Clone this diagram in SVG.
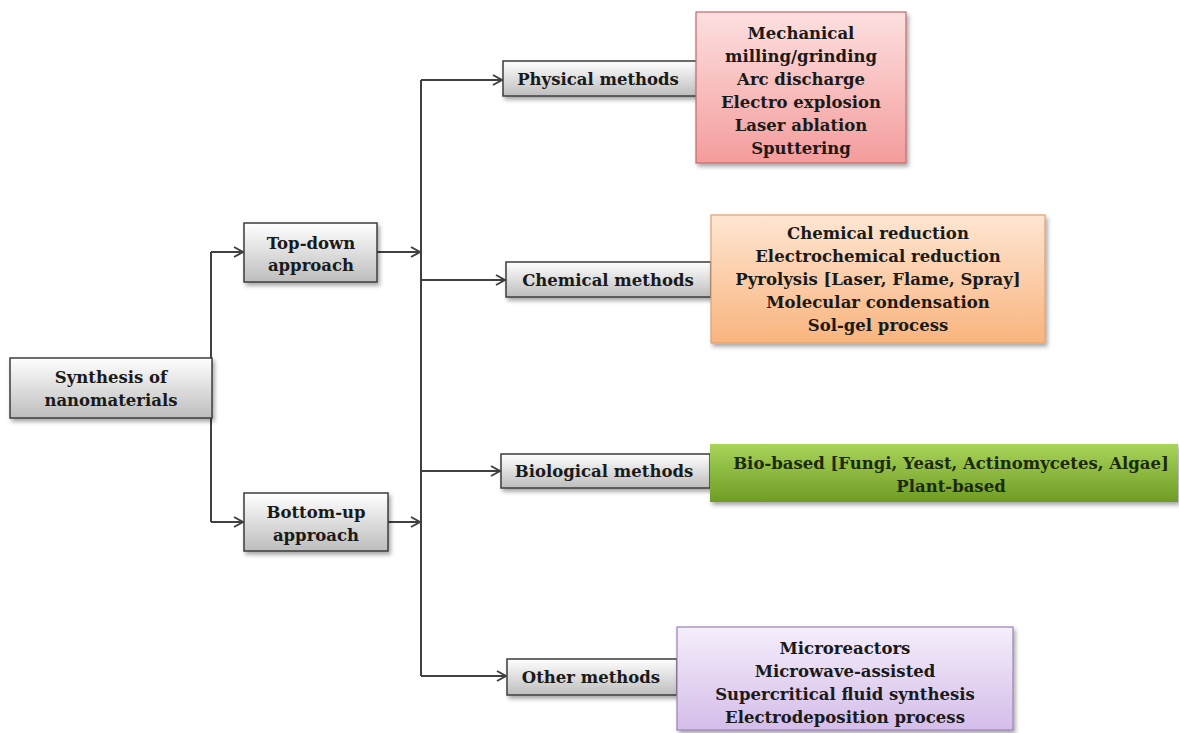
<svg xmlns="http://www.w3.org/2000/svg" width="1179" height="733" viewBox="0 0 1179 733">
<defs>
<linearGradient id="gGray" x1="0" y1="0" x2="0" y2="1"><stop offset="0" stop-color="#ffffff"/><stop offset="1" stop-color="#bdbdbd"/></linearGradient>
<linearGradient id="gPink" x1="0" y1="0" x2="0" y2="1"><stop offset="0" stop-color="#fde0e0"/><stop offset="1" stop-color="#f49c9c"/></linearGradient>
<linearGradient id="gOrange" x1="0" y1="0" x2="0" y2="1"><stop offset="0" stop-color="#fee6d2"/><stop offset="1" stop-color="#f9b47e"/></linearGradient>
<linearGradient id="gGreen" x1="0" y1="0" x2="0" y2="1"><stop offset="0" stop-color="#a8d45a"/><stop offset="1" stop-color="#6f9c24"/></linearGradient>
<linearGradient id="gPurple" x1="0" y1="0" x2="0" y2="1"><stop offset="0" stop-color="#f5eefb"/><stop offset="1" stop-color="#d4bde9"/></linearGradient>
<filter id="sh" x="-10%" y="-20%" width="125%" height="150%"><feDropShadow dx="2" dy="3" stdDeviation="2" flood-color="#000" flood-opacity="0.35"/></filter>
<marker id="ah" markerWidth="12" markerHeight="12" refX="10" refY="6" orient="auto" markerUnits="userSpaceOnUse"><path d="M1,1 L10,6 L1,11" fill="none" stroke="#404040" stroke-width="2"/></marker>
<style>
.gbox{fill:url(#gGray);stroke:#3c3c3c;stroke-width:1.5;filter:url(#sh)}
.t{font-family:"DejaVu Serif","Liberation Serif",serif;font-weight:bold;font-size:16.5px;fill:#1a1a1a;text-anchor:middle;dominant-baseline:central}
.c{fill:none;stroke:#404040;stroke-width:2}
.ca{fill:none;stroke:#404040;stroke-width:2;marker-end:url(#ah)}
</style>
</defs>
<rect width="1179" height="733" fill="#ffffff"/>
<g id="connectors">
<path class="c" d="M211,252 V522"/>
<path class="ca" d="M211,252 H243"/>
<path class="ca" d="M211,522 H243"/>
<path class="ca" d="M377,252 H420"/>
<path class="ca" d="M388,522 H420"/>
<path class="c" d="M421,80 V676"/>
<path class="ca" d="M421,80 H502"/>
<path class="ca" d="M421,280 H505"/>
<path class="ca" d="M421,471 H500"/>
<path class="ca" d="M421,676 H506"/>
</g>
<g id="synthesis">
<rect class="gbox" x="10" y="358" width="202" height="60"/>
<text class="t" x="111" y="377">Synthesis of</text>
<text class="t" x="111" y="400">nanomaterials</text>
</g>
<g id="topdown">
<rect class="gbox" x="244" y="223" width="133" height="59"/>
<text class="t" x="311" y="243">Top-down</text>
<text class="t" x="311" y="265">approach</text>
</g>
<g id="bottomup">
<rect class="gbox" x="244" y="493" width="144" height="58"/>
<text class="t" x="316" y="512">Bottom-up</text>
<text class="t" x="316" y="535">approach</text>
</g>
<g id="physical">
<rect class="gbox" x="503" y="61" width="194" height="35"/>
<text class="t" x="598" y="79">Physical methods</text>
</g>
<g id="physical-list">
<rect x="696" y="12" width="210" height="151" fill="url(#gPink)" stroke="#c46a6a" stroke-width="1.2" filter="url(#sh)"/>
<text class="t" x="801" y="33">Mechanical</text>
<text class="t" x="801" y="56">milling/grinding</text>
<text class="t" x="801" y="79">Arc discharge</text>
<text class="t" x="801" y="102">Electro explosion</text>
<text class="t" x="801" y="125">Laser ablation</text>
<text class="t" x="801" y="148">Sputtering</text>
</g>
<g id="chemical">
<rect class="gbox" x="506" y="262" width="205" height="35"/>
<text class="t" x="608" y="280">Chemical methods</text>
</g>
<g id="chemical-list">
<rect x="711" y="215" width="334" height="128" fill="url(#gOrange)" stroke="#e0a070" stroke-width="1.2" filter="url(#sh)"/>
<text class="t" x="878" y="233">Chemical reduction</text>
<text class="t" x="878" y="256">Electrochemical reduction</text>
<text class="t" x="878" y="279">Pyrolysis [Laser, Flame, Spray]</text>
<text class="t" x="878" y="302">Molecular condensation</text>
<text class="t" x="878" y="325">Sol-gel process</text>
</g>
<g id="biological">
<rect class="gbox" x="501" y="454" width="209" height="34"/>
<text class="t" x="604" y="471">Biological methods</text>
</g>
<g id="biological-list">
<rect x="710" y="444" width="468" height="58" fill="url(#gGreen)" filter="url(#sh)"/>
<text class="t" x="951" y="463" style="fill:#1c2a08">Bio-based [Fungi, Yeast, Actinomycetes, Algae]</text>
<text class="t" x="951" y="486" style="fill:#1c2a08">Plant-based</text>
</g>
<g id="other">
<rect class="gbox" x="507" y="659" width="170" height="36"/>
<text class="t" x="591" y="677">Other methods</text>
</g>
<g id="other-list">
<rect x="677" y="627" width="336" height="103" fill="url(#gPurple)" stroke="#9a80b8" stroke-width="1.2" filter="url(#sh)"/>
<text class="t" x="845" y="648">Microreactors</text>
<text class="t" x="845" y="671">Microwave-assisted</text>
<text class="t" x="845" y="694">Supercritical fluid synthesis</text>
<text class="t" x="845" y="717">Electrodeposition process</text>
</g>
</svg>
